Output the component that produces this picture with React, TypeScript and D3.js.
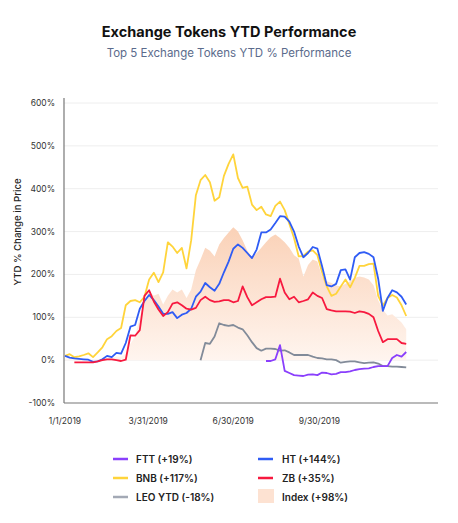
import * as d3 from "d3";
import { useEffect, useRef } from "react";

// sampled every 5 days from 1/1/2019
const START = new Date(2019, 0, 1);
const STEP_DAYS = 5;

const bnb = [
	10, 14, 7, 9, 12, 16, 7, 18, 30, 49, 56, 68, 75, 128, 138, 140, 135, 148, 188, 204,
	182, 205, 275, 265, 250, 262, 214, 280, 385, 420, 432, 415, 372, 380, 430, 458, 480, 425, 402, 405,
	363, 350, 358, 340, 336, 360, 370, 350, 318, 285, 242, 243, 253, 256, 245, 205, 172, 150, 155, 172,
	188, 170, 192, 220, 220, 224, 225, 150, 127, 145, 152, 146, 128, 103,
];
const ht = [
	10, 6, 4, 3, 2, 1, -4, -3, 2, 10, 7, 17, 15, 40, 78, 82, 120, 138, 152, 140,
	125, 108, 108, 112, 98, 106, 110, 120, 148, 160, 180, 170, 162, 178, 205, 230, 260, 270, 262, 250,
	238, 258, 298, 298, 305, 320, 336, 335, 323, 300, 265, 240, 250, 264, 260, 219, 175, 172, 178, 210,
	212, 188, 240, 250, 252, 248, 240, 190, 115, 145, 163, 158, 148, 130,
];
const zb = [
	null, null, -5, -5, -5, -5, -5, -3, 0, 2, 2, 0, -2, 1, 58, 57, 70, 150, 163, 137,
	118, 103, 112, 132, 135, 128, 120, 118, 122, 140, 148, 140, 136, 137, 140, 140, 135, 138, 172, 147,
	128, 135, 142, 147, 147, 148, 190, 158, 142, 148, 135, 138, 142, 158, 150, 145, 119, 116, 114, 114,
	114, 113, 110, 114, 112, 108, 100, 68, 42, 49, 49, 49, 40, 38,
];
const leo = [
	null, null, null, null, null, null, null, null, null, null, null, null, null, null, null, null, null, null, null, null,
	null, null, null, null, null, null, null, null, null, 0, 40, 38, 55, 86, 82, 80, 82, 76, 72, 58,
	42, 28, 22, 27, 27, 26, 22, 23, 18, 12, 12, 12, 12, 8, 5, 4, 2, 2, 0, -6,
	-4, -3, -3, -5, -7, -6, -5, -8, -14, -14, -15, -15, -16, -17,
];
const ftt = [
	null, null, null, null, null, null, null, null, null, null, null, null, null, null, null, null, null, null, null, null,
	null, null, null, null, null, null, null, null, null, null, null, null, null, null, null, null, null, null, null, null,
	null, null, null, -2, -2, 2, 35, -25, -30, -35, -36, -37, -34, -33, -35, -29, -30, -33, -32, -28,
	-28, -26, -23, -21, -20, -19, -16, -14, -14, -14, 5, 12, 8, 19,
];
const indexYtd = [
	3, 5, 4, 3, 3, 2, 0, 2, 4, 6, 6, 8, 8, 15, 38, 55, 100, 140, 160, 150,
	155, 130, 150, 165, 158, 165, 145, 165, 210, 235, 262, 255, 242, 270, 285, 298, 310, 300, 280, 255,
	240, 250, 262, 275, 287, 293, 285, 275, 262, 245, 237, 195, 222, 235, 230, 195, 184, 180, 174, 172,
	178, 184, 192, 195, 193, 188, 175, 140, 118, 104, 107, 98, 88, 72,
];

const yTicks = [600, 500, 400, 300, 200, 100, 0, -100];
const xTickLabels = ["1/1/2019", "3/31/2019", "6/30/2019", "9/30/2019"];

const lineSeries = [
	{ name: "BNB", color: "#ffd43b", values: bnb },
	{ name: "HT", color: "#2f5cf5", values: ht },
	{ name: "ZB", color: "#f7193f", values: zb },
	{ name: "LEO YTD", color: "#828b99", values: leo },
	{ name: "FTT", color: "#8a3ffc", values: ftt },
];

const legendItems = [
	{ label: "FTT (+19%)", color: "#8a3ffc", col: 0, row: 0 },
	{ label: "BNB (+117%)", color: "#ffd43b", col: 0, row: 1 },
	{ label: "LEO YTD (-18%)", color: "#a3a9b5", col: 0, row: 2 },
	{ label: "HT (+144%)", color: "#2f5cf5", col: 1, row: 0 },
	{ label: "ZB (+35%)", color: "#f7193f", col: 1, row: 1 },
	{ label: "Index (+98%)", color: "#fde2d2", col: 1, row: 2, box: true },
];

const FONT = "Inter, 'Noto Sans', sans-serif";

export default function App() {
	const ref = useRef<SVGSVGElement | null>(null);

	useEffect(() => {
		if (!ref.current) return;
		const svg = d3.select(ref.current);
		svg.selectAll("*").remove();

		const dates = indexYtd.map((_, i) => d3.timeDay.offset(START, i * STEP_DAYS));
		const x = d3
			.scaleTime()
			.domain([START, new Date(2020, 1, 4)])
			.range([65, 438]);
		const y = d3.scaleLinear().domain([-100, 600]).range([403, 103]);
		const left = 64;
		const right = 438;

		// title
		svg
			.append("text")
			.attr("x", 229)
			.attr("y", 37)
			.attr("text-anchor", "middle")
			.style("font-family", FONT)
			.style("font-size", "14.5px")
			.style("font-weight", 700)
			.style("fill", "#111")
			.text("Exchange Tokens YTD Performance");
		svg
			.append("text")
			.attr("x", 229)
			.attr("y", 57)
			.attr("text-anchor", "middle")
			.style("font-family", FONT)
			.style("font-size", "11.5px")
			.style("fill", "#5b6b8c")
			.text("Top 5 Exchange Tokens YTD % Performance");

		// grid
		svg
			.append("g")
			.selectAll("line")
			.data(yTicks.filter((t) => t > -100))
			.enter()
			.append("line")
			.attr("x1", left)
			.attr("x2", right)
			.attr("y1", (d) => y(d))
			.attr("y2", (d) => y(d))
			.attr("stroke", "#eeeeee")
			.attr("stroke-width", 1);

		svg
			.append("g")
			.selectAll("text")
			.data(yTicks)
			.enter()
			.append("text")
			.attr("x", 55)
			.attr("y", (d) => y(d))
			.attr("dy", "0.35em")
			.attr("text-anchor", "end")
			.style("font-family", FONT)
			.style("font-size", "8.5px")
			.style("fill", "#333")
			.text((d) => `${d}%`);

		svg
			.append("text")
			.attr("transform", "translate(21,232) rotate(-90)")
			.attr("text-anchor", "middle")
			.style("font-family", FONT)
			.style("font-size", "9.6px")
			.style("font-weight", 500)
			.style("fill", "#222")
			.text("YTD % Change in Price");

		// index area with fading fill
		const defs = svg.append("defs");
		const grad = defs
			.append("linearGradient")
			.attr("id", "idxGrad")
			.attr("gradientUnits", "userSpaceOnUse")
			.attr("x1", 0)
			.attr("x2", 0)
			.attr("y1", y(320))
			.attr("y2", y(0));
		grad.append("stop").attr("offset", "0%").attr("stop-color", "#fad0b5");
		grad.append("stop").attr("offset", "100%").attr("stop-color", "#fff5ef");

		const area = d3
			.area<number>()
			.x((_, i) => x(dates[i]))
			.y0(y(0))
			.y1((d) => y(d));
		svg
			.append("path")
			.attr("d", area(indexYtd))
			.attr("fill", "url(#idxGrad)");

		const line = d3
			.line<number | null>()
			.defined((d) => d !== null)
			.x((_, i) => x(dates[i]))
			.y((d) => y(d as number));

		svg
			.append("g")
			.selectAll("path")
			.data(lineSeries)
			.enter()
			.append("path")
			.attr("d", (s) => line(s.values))
			.attr("fill", "none")
			.attr("stroke", (s) => s.color)
			.attr("stroke-width", 1.8)
			.attr("stroke-linejoin", "round");

		// axes
		svg
			.append("line")
			.attr("x1", left)
			.attr("x2", left)
			.attr("y1", 98)
			.attr("y2", 403)
			.attr("stroke", "#777")
			.attr("stroke-width", 1.2);
		svg
			.append("line")
			.attr("x1", left)
			.attr("x2", right)
			.attr("y1", 403)
			.attr("y2", 403)
			.attr("stroke", "#777")
			.attr("stroke-width", 1.2);

		const parse = d3.timeParse("%m/%d/%Y");
		svg
			.append("g")
			.selectAll("text")
			.data(xTickLabels)
			.enter()
			.append("text")
			.attr("x", (d) => x(parse(d) as Date))
			.attr("y", 424)
			.attr("text-anchor", "middle")
			.style("font-family", FONT)
			.style("font-size", "8.5px")
			.style("fill", "#333")
			.text((d) => d);

		// legend
		const lg = svg
			.append("g")
			.selectAll("g")
			.data(legendItems)
			.enter()
			.append("g")
			.attr("transform", (d) => `translate(${d.col ? 258 : 113},${459 + d.row * 19})`);
		lg.each(function (d) {
			const g = d3.select(this);
			if (d.box) {
				g.append("rect")
					.attr("x", 0)
					.attr("y", -8)
					.attr("width", 16)
					.attr("height", 14)
					.attr("fill", d.color);
			} else {
				g.append("line")
					.attr("x1", 0)
					.attr("x2", 15)
					.attr("y1", 0)
					.attr("y2", 0)
					.attr("stroke", d.color)
					.attr("stroke-width", 2.5);
			}
			g.append("text")
				.attr("x", d.col ? 24 : 23)
				.attr("y", 0)
				.attr("dy", "0.35em")
				.style("font-family", FONT)
				.style("font-size", "10px")
				.style("font-weight", 600)
				.style("fill", "#222")
				.text(d.label);
		});
	}, []);

	return (
		<svg
			ref={ref}
			width={458}
			height={523}
			style={{ position: "absolute", left: 0, top: 0, background: "#fff" }}
		/>
	);
}
